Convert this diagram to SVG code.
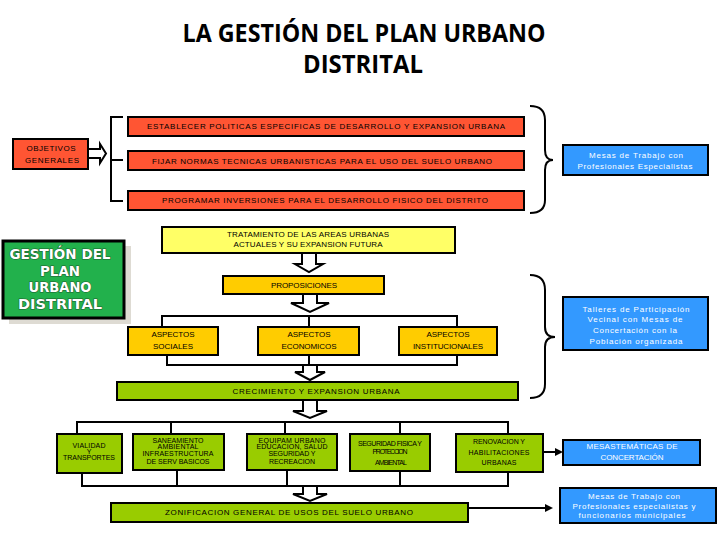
<svg xmlns="http://www.w3.org/2000/svg" width="720" height="540" viewBox="0 0 720 540">
<style>
.bx{stroke:#000;stroke-width:2}
.red{fill:#FF5533}
.blue{fill:#3399FF}
.yel{fill:#FFFF66}
.gold{fill:#FFCC00}
.lime{fill:#99CC00}
.t{font-family:"Liberation Sans",Arial,sans-serif;font-size:8px;fill:#000;text-anchor:middle}
.s{font-size:7px}
.w{fill:#fff}
.ln{fill:none;stroke:#000;stroke-width:2}
.ha{fill:#fff;stroke:#000;stroke-width:2;stroke-linejoin:miter}
.title{font-family:"Open Sans","Liberation Sans",sans-serif;font-weight:bold;font-size:25px;text-anchor:middle;fill:#000}
.gt{font-family:"DejaVu Sans","Liberation Sans",Arial,sans-serif;font-weight:bold;font-size:13.5px;text-anchor:middle;fill:#fff;stroke:#1E5E2E;stroke-width:1.1;paint-order:stroke}
</style>
<defs>
<marker id="ah" markerWidth="8" markerHeight="8" refX="2" refY="4" orient="auto" markerUnits="userSpaceOnUse"><path d="M0,0 L8,4 L0,8 z" fill="#000"/></marker>
</defs>
<rect width="720" height="540" fill="#fff"/>
<g id="title">
<text class="title" x="364" y="42" textLength="363" lengthAdjust="spacingAndGlyphs">LA GESTIÓN DEL PLAN URBANO</text>
<text class="title" x="363" y="73" textLength="120" lengthAdjust="spacingAndGlyphs">DISTRITAL</text>
</g>
<g id="connectors">
<polygon class="ha" points="88,149 100,149 100,144 106,153.5 100,163 100,158 88,158"/>
<path class="ln" d="M123,117 H111 V201 H123 M111,160 H123"/>
<path class="ln" d="M530,106 Q545,106 545,120 L545,150 Q545,160 553,160 Q545,160 545,170 L545,200 Q545,213 530,213"/>
<path class="ln" d="M530,275 Q545,275 545,290 L545,327 Q545,337 555,337 Q545,337 545,347 L545,384 Q545,398 530,398"/>
<polygon class="ha" points="302,253 316,253 316,264 323,264 309,272 295,264 302,264"/>
<polygon class="ha" points="303,294 317,294 317,303 329,303 310,312 291,303 303,303"/>
<path class="ln" d="M162,327 V316 H457 V327 M309,316 V327"/>
<path class="ln" d="M167,355 V365 H457 V355 M309,355 V365"/>
<polygon class="ha" points="303,365 317,365 317,372 325,372 310,380 295,372 303,372"/>
<polygon class="ha" points="303,400 317,400 317,411 327,411 310,418 293,411 303,411"/>
<path class="ln" d="M77,434 V422 H508 V434 M171,422 V434 M285,422 V434 M400,422 V434"/>
<path class="ln" d="M82,473 V486 H508 V472 M177,470 V486 M287,470 V486 M400,471 V486"/>
<polygon class="ha" points="303,486 317,486 317,494 327,494 310,501 293,494 303,494"/>
<path class="ln" d="M543,452 H557" marker-end="url(#ah)"/>
<path class="ln" d="M468,508 H547" marker-end="url(#ah)"/>
</g>
<g id="objetivos">
<rect class="bx red" x="13" y="139" width="75" height="30"/>
<text class="t" x="51" y="151" textLength="49">OBJETIVOS</text>
<text class="t" x="52" y="163" textLength="54">GENERALES</text>
</g>
<g id="establecer">
<rect class="bx red" x="128" y="117" width="396" height="19"/>
<text class="t" x="326" y="129" textLength="358">ESTABLECER POLITICAS ESPECIFICAS DE DESARROLLO Y EXPANSION URBANA</text>
</g>
<g id="fijar">
<rect class="bx red" x="128" y="151" width="396" height="19"/>
<text class="t" x="322" y="164" textLength="340">FIJAR NORMAS TECNICAS URBANISTICAS PARA EL USO DEL SUELO URBANO</text>
</g>
<g id="programar">
<rect class="bx red" x="128" y="191" width="396" height="19"/>
<text class="t" x="325" y="203" textLength="326">PROGRAMAR INVERSIONES PARA EL DESARROLLO FISICO DEL DISTRITO</text>
</g>
<g id="mesas-especialistas">
<rect class="bx blue" x="563" y="145" width="145" height="30"/>
<text class="t w" x="636" y="158" textLength="94">Mesas de Trabajo con</text>
<text class="t w" x="635" y="169" textLength="115">Profesionales Especialistas</text>
</g>
<g id="gestion">
<rect x="9" y="246" width="122" height="78" fill="#DEDBD3"/>
<rect x="3" y="241" width="121" height="77" fill="#22B14C" stroke="#000" stroke-width="3"/>
<text class="gt" x="60" y="259" textLength="101" lengthAdjust="spacingAndGlyphs">GESTIÓN DEL</text>
<text class="gt" x="60" y="276" textLength="40" lengthAdjust="spacingAndGlyphs">PLAN</text>
<text class="gt" x="60" y="292" textLength="63" lengthAdjust="spacingAndGlyphs">URBANO</text>
<text class="gt" x="60" y="309" textLength="84" lengthAdjust="spacingAndGlyphs">DISTRITAL</text>
</g>
<g id="tratamiento">
<rect class="bx yel" x="162" y="227" width="293" height="26"/>
<text class="t" x="308" y="237" textLength="162">TRATAMIENTO DE LAS AREAS URBANAS</text>
<text class="t" x="308" y="247" textLength="149">ACTUALES Y SU EXPANSION FUTURA</text>
</g>
<g id="proposiciones">
<rect class="bx gold" x="223" y="276" width="161" height="18"/>
<text class="t" x="304" y="288" textLength="66">PROPOSICIONES</text>
</g>
<g id="sociales">
<rect class="bx gold" x="128" y="327" width="90" height="28"/>
<text class="t" x="173" y="337" textLength="43">ASPECTOS</text>
<text class="t" x="173" y="349" textLength="40">SOCIALES</text>
</g>
<g id="economicos">
<rect class="bx gold" x="258" y="327" width="101" height="28"/>
<text class="t" x="309" y="337" textLength="43">ASPECTOS</text>
<text class="t" x="309" y="349" textLength="55">ECONOMICOS</text>
</g>
<g id="institucionales">
<rect class="bx gold" x="399" y="327" width="98" height="28"/>
<text class="t" x="448" y="337" textLength="43">ASPECTOS</text>
<text class="t" x="448" y="349" textLength="70">INSTITUCIONALES</text>
</g>
<g id="talleres">
<rect class="bx blue" x="563" y="297" width="145" height="53"/>
<text class="t w" x="636" y="312" textLength="107">Talleres de Participación</text>
<text class="t w" x="635" y="322" textLength="95">Vecinal con Mesas de</text>
<text class="t w" x="635" y="333" textLength="84">Concertación con la</text>
<text class="t w" x="636" y="344" textLength="93">Población organizada</text>
</g>
<g id="crecimiento">
<rect class="bx lime" x="117" y="382" width="401" height="18"/>
<text class="t" x="316" y="394" textLength="167">CRECIMIENTO Y EXPANSION URBANA</text>
</g>
<g id="vialidad">
<rect class="bx lime" x="57" y="434" width="65" height="39"/>
<text class="t s" x="89" y="448" textLength="33">VIALIDAD</text>
<text class="t s" x="89" y="454">Y</text>
<text class="t s" x="89" y="460" textLength="52">TRANSPORTES</text>
</g>
<g id="saneamiento">
<rect class="bx lime" x="133" y="434" width="91" height="36"/>
<text class="t s" x="178" y="443" textLength="51">SANEAMIENTO</text>
<text class="t s" x="178" y="449" textLength="41">AMBIENTAL</text>
<text class="t s" x="178" y="456" textLength="71">INFRAESTRUCTURA</text>
<text class="t s" x="178" y="464" textLength="63">DE SERV BASICOS</text>
</g>
<g id="equipamiento">
<rect class="bx lime" x="247" y="434" width="90" height="36"/>
<text class="t s" x="292" y="443" textLength="67">EQUIPAM URBANO</text>
<text class="t s" x="292" y="449" textLength="71">EDUCACION, SALUD</text>
<text class="t s" x="292" y="456" textLength="47">SEGURIDAD Y</text>
<text class="t s" x="292" y="464" textLength="46">RECREACION</text>
</g>
<g id="seguridad">
<rect class="bx lime" x="350" y="434" width="80" height="37"/>
<text class="t s" x="390" y="446" textLength="64">SEGURIDAD FISICA Y</text>
<text class="t s" x="390" y="454" textLength="35">PROTECCION</text>
<text class="t s" x="391" y="465" textLength="32">AMBIENTAL</text>
</g>
<g id="renovacion">
<rect class="bx lime" x="456" y="434" width="87" height="38"/>
<text class="t s" x="499" y="444" textLength="52">RENOVACION Y</text>
<text class="t s" x="499" y="455" textLength="61">HABILITACIONES</text>
<text class="t s" x="499" y="465" textLength="35">URBANAS</text>
</g>
<g id="mesas-tematicas">
<rect class="bx blue" x="563" y="440" width="137" height="25"/>
<text class="t w" x="632" y="449" textLength="91">MESASTEMÁTICAS DE</text>
<text class="t w" x="632" y="460" textLength="63">CONCERTACIÓN</text>
</g>
<g id="zonificacion">
<rect class="bx lime" x="111" y="503" width="357" height="19"/>
<text class="t" x="289" y="515" textLength="248">ZONIFICACION GENERAL DE USOS DEL SUELO URBANO</text>
</g>
<g id="mesas-funcionarios">
<rect class="bx blue" x="560" y="488" width="156" height="35"/>
<text class="t w" x="634" y="499" textLength="92">Mesas de Trabajo con</text>
<text class="t w" x="634" y="509" textLength="123">Profesionales especialistas y</text>
<text class="t w" x="632" y="518" textLength="107">funcionarios municipales</text>
</g>
</svg>
